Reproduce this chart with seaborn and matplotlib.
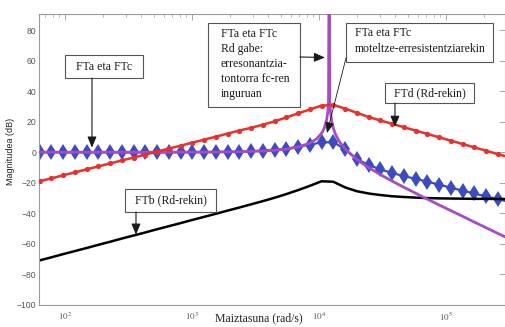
import matplotlib
matplotlib.use("Agg")
import matplotlib.pyplot as plt
import seaborn as sns
from matplotlib.patches import Rectangle
from matplotlib.ticker import LogLocator, NullFormatter

# ---------------- data ----------------
freq = [63.1, 78.1, 96.6, 119.5, 147.9, 183.0, 226.5, 280.2, 346.7, 429.0,
        530.9, 656.9, 812.8, 1006, 1245, 1540, 1906, 2358, 2917, 3610,
        4467, 5527, 6839, 8463, 10471, 12957, 16032, 19839, 24547, 30374,
        37584, 46506, 57544, 71204, 88105, 109018, 134896, 166917, 206538,
        255568, 316228]

# FTa eta FTc with damping resistor (blue diamonds)
ftac_rd = [0.0, 0.0, 0.0, 0.0, 0.0, 0.0, 0.0, 0.0, 0.0, 0.0, 0.0, 0.0, 0.0,
           0.1, 0.1, 0.2, 0.3, 0.4, 0.7, 1.0, 1.5, 2.3, 3.6, 5.0, 6.4, 6.6,
           2.0, -4.5, -8.3, -11.2, -13.6, -15.6, -17.4, -19.2, -21.2, -23.2,
           -25.1, -27.0, -28.9, -30.7, -32.5]

# FTd (Rd-rekin) (red dots)
ftd_rd = [-19.0, -17.1, -15.1, -13.2, -11.2, -9.3, -7.3, -5.4, -3.5, -1.5,
          0.4, 2.4, 4.3, 6.3, 8.2, 10.2, 12.2, 14.2, 16.0, 18.0, 20.2, 22.8,
          25.4, 28.0, 30.5, 31.0, 28.6, 25.8, 23.1, 20.8, 18.6, 16.4, 14.2,
          12.0, 9.8, 7.6, 5.4, 3.2, 1.0, -1.2, -3.4]

# FTb (Rd-rekin) (black)
ftb_rd = [-70.8, -68.8, -66.7, -64.7, -62.7, -60.6, -58.6, -56.5, -54.5,
          -52.5, -50.4, -48.4, -46.4, -44.3, -42.3, -40.3, -38.2, -36.2,
          -34.1, -32.0, -29.8, -27.4, -24.8, -22.0, -19.0, -19.3, -23.0,
          -25.5, -27.0, -28.0, -28.8, -29.3, -29.7, -30.0, -30.2, -30.3,
          -30.4, -30.5, -30.5, -30.6, -30.6]

# FTa eta FTc without Rd (purple, undamped resonance)
freq_nord = [63.1, 100, 200, 500, 1000, 1540, 1906, 2358, 2917, 3610, 4467,
             5527, 6839, 8463, 9550, 10471, 10965, 11482, 11749, 11885, 12023,
             12162, 12303, 12589, 12957, 13490, 14454, 16032, 19839, 24547,
             30374, 37584, 46506, 57544, 71204, 88105, 109018, 134896,
             166917, 206538, 255568, 316228]
ftac_nord = [0.0, 0.0, 0.0, 0.02, 0.06, 0.14, 0.22, 0.34, 0.53, 0.82, 1.29,
             2.06, 3.40, 5.93, 8.66, 12.36, 15.5, 21.1, 26.9, 32.8, 150.0,
             32.7, 26.6, 20.3, 15.8, 11.7, 7.0, 2.18, -4.73, -10.0, -14.6,
             -18.86, -22.9, -26.8, -30.7, -34.5, -38.2, -41.9, -45.7, -49.4,
             -53.1, -56.8]

xticks = [1e2, 1e3, 1e4, 1e5]
xticklabels = ["$10^{2}$", "$10^{3}$", "$10^{4}$", "$10^{5}$"]
yticks = [-100, -80, -60, -40, -20, 0, 20, 40, 60, 80]

# ---------------- style ----------------
sns.set_theme(style="white")
plt.rcParams['font.family'] = ['Liberation Serif', 'DejaVu Serif']
plt.rcParams['mathtext.fontset'] = 'stix'

W, H = 506, 327
fig = plt.figure(figsize=(W / 100, H / 100), dpi=100)
ax = fig.add_axes([39 / W, 1 - 305 / H, (505 - 39) / W, (305 - 14) / H])

BLUE = "#3a4cc0"
PURPLE = "#a84ac8"
RED = "#e8302c"
BLACK = "#000000"

sns.lineplot(x=freq, y=ftac_rd, ax=ax, color=BLUE, lw=1.6, marker="d",
             markersize=8, markeredgewidth=0, markerfacecolor=BLUE,
             sort=False, estimator=None, zorder=2)
sns.lineplot(x=freq_nord, y=ftac_nord, ax=ax, color=PURPLE, lw=2.0,
             sort=False, estimator=None, zorder=3)
sns.lineplot(x=freq, y=ftb_rd, ax=ax, color=BLACK, lw=1.8,
             sort=False, estimator=None, zorder=2)
sns.lineplot(x=freq, y=ftd_rd, ax=ax, color=RED, lw=1.8, marker="o",
             markersize=3.8, markeredgewidth=0, markerfacecolor=RED,
             sort=False, estimator=None, zorder=4)

ax.set_xscale("log")
ax.set_xlim(62.4, 2.914e5)
ax.set_ylim(-100, 90.5)
ax.set_xticks(xticks)
ax.set_xticklabels(xticklabels)
ax.xaxis.set_minor_locator(LogLocator(base=10, subs=[2, 3, 4, 5, 6, 7, 8, 9], numticks=20))
ax.xaxis.set_minor_formatter(NullFormatter())
ax.set_yticks(yticks)
ax.set_yticklabels([str(v).replace("-", "\u2212") for v in yticks])

for side in ["left", "right", "top", "bottom"]:
    ax.spines[side].set_color("#9a9a9a")
    ax.spines[side].set_linewidth(0.8)

ax.tick_params(which="both", direction="in", top=True, right=True,
               color="#9a9a9a", labelcolor="#555555")
ax.tick_params(which="major", length=4, width=0.6)
ax.tick_params(which="minor", length=2.5, width=0.5)
ax.tick_params(axis="x", labelsize=6.5, pad=4)
ax.tick_params(axis="y", labelsize=6.2, pad=2)
for lab in ax.get_yticklabels():
    lab.set_fontfamily(["Liberation Sans", "DejaVu Sans"])

ax.set_ylabel("Magnitudea (dB)", fontsize=6.5, color="#222222",
              fontfamily=["Liberation Sans", "DejaVu Sans"])
ax.yaxis.set_label_coords(-0.0515, 0.529)
ax.set_xlabel("Maiztasuna (rad/s)", fontsize=8.5, color="#222222")
ax.xaxis.label.set_verticalalignment("center")
ax.xaxis.set_label_coords(0.472, -0.046)


# ---------------- annotations ----------------
def fx(px):
    return px / W


def fy(py):
    return 1 - py / H


def box(x0, y0, x1, y1):
    ax.add_patch(Rectangle((fx(x0), fy(y1)), (x1 - x0) / W, (y1 - y0) / H,
                           transform=fig.transFigure, clip_on=False,
                           facecolor="white", edgecolor="#555555", lw=0.8,
                           zorder=10))


def txt(px, py, s, ha="left"):
    ax.text(fx(px), fy(py), s, transform=fig.transFigure, ha=ha, va="center",
            fontsize=8.5, color="#1a1a1a", zorder=11, clip_on=False)


def arrow(xy, px, py, lw=0.8):
    ax.annotate("", xy=xy, xycoords="data", xytext=(fx(px), fy(py)),
                textcoords="figure fraction",
                arrowprops=dict(arrowstyle="-|>,head_length=0.6,head_width=0.25",
                                color="#1a1a1a", lw=lw, shrinkA=0, shrinkB=0,
                                mutation_scale=11),
                zorder=12, annotation_clip=False)


# FTa eta FTc
box(65, 55, 143, 78)
txt(104, 66.5, "FTa eta FTc", ha="center")
arrow((163, 3.0), 92, 78)

# FTa eta FTc Rd gabe
box(208, 23, 300, 107)
for i, line in enumerate(["FTa eta FTc", "Rd gabe:", "erresonantzia-",
                          "tontorra fc-ren", "inguruan"]):
    txt(221, 34.3 + 15 * i, line)
arrow((11150, 62.0), 300, 57)

# FTa eta FTc moteltze-erresistentziarekin
box(346, 23, 493, 62)
txt(355, 33.5, "FTa eta FTc")
txt(355, 49, "moteltze-erresistentziarekin")
arrow((11560, 12.6), 346, 58, lw=0.6)

# FTd (Rd-rekin)
box(385, 83, 474, 103)
txt(429.5, 93, "FTd (Rd-rekin)", ha="center")
arrow((39600, 16.6), 395, 103)

# FTb (Rd-rekin)
box(125, 189, 216, 212)
txt(170.5, 200.5, "FTb (Rd-rekin)", ha="center")
arrow((362, -54.0), 136, 212)

fig.savefig("out.png", dpi=100)
